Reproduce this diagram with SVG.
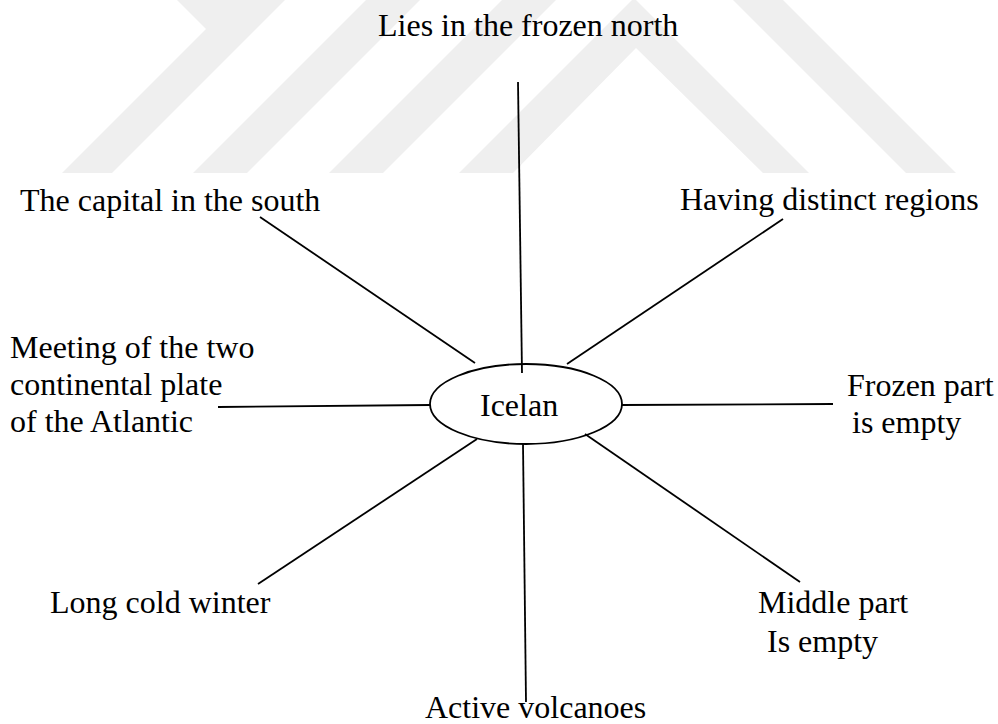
<svg xmlns="http://www.w3.org/2000/svg" width="998" height="724" viewBox="0 0 998 724">
<style>
.t{font-family:"Liberation Serif","Times New Roman",serif;font-size:32px;fill:#000}
.c{stroke:#000;stroke-width:1.8;fill:none}
.wm{fill:#efefef}
</style>
<rect width="998" height="724" fill="#fff"/>
<g id="watermark">
<polygon class="wm" points="177,0 285,0 112,173 62,173 206,29"/>
<polygon class="wm" points="366,0 420,0 247,173 193,173"/>
<polygon class="wm" points="502,0 556,0 383,173 329,173"/>
<polygon class="wm" points="632,0 636,0 809,173 763,173 636,48 513,173 459,173"/>
<polygon class="wm" points="733,0 783,0 956,173 906,173"/>
</g>
<g id="connectors">
<line class="c" x1="518" y1="82" x2="522" y2="373"/>
<line class="c" x1="260" y1="217" x2="475" y2="363"/>
<line class="c" x1="783" y1="219" x2="567" y2="364"/>
<line class="c" x1="218" y1="407" x2="430" y2="405"/>
<line class="c" x1="622" y1="405" x2="833" y2="404"/>
<line class="c" x1="477" y1="439" x2="258" y2="584"/>
<line class="c" x1="523" y1="444" x2="526" y2="702"/>
<line class="c" x1="585" y1="434" x2="800" y2="582"/>
</g>
<g id="center">
<ellipse class="c" cx="526" cy="404" rx="96" ry="40" fill="#fff"/>
<text class="t" x="480" y="416">Icelan</text>
</g>
<g id="n-north"><text class="t" x="378" y="36">Lies in the frozen north</text></g>
<g id="n-capital"><text class="t" x="20" y="211">The capital in the south</text></g>
<g id="n-regions"><text class="t" x="680" y="210">Having distinct regions</text></g>
<g id="n-meeting">
<text class="t" x="10" y="358">Meeting of the two</text>
<text class="t" x="10" y="395">continental plate</text>
<text class="t" x="10" y="432">of the Atlantic</text>
</g>
<g id="n-frozen">
<text class="t" x="847" y="396">Frozen part</text>
<text class="t" x="852" y="433">is empty</text>
</g>
<g id="n-winter"><text class="t" x="50" y="613">Long cold winter</text></g>
<g id="n-middle">
<text class="t" x="758" y="613">Middle part</text>
<text class="t" x="767" y="652">Is empty</text>
</g>
<g id="n-volcanoes"><text class="t" x="425" y="718">Active volcanoes</text></g>
</svg>
